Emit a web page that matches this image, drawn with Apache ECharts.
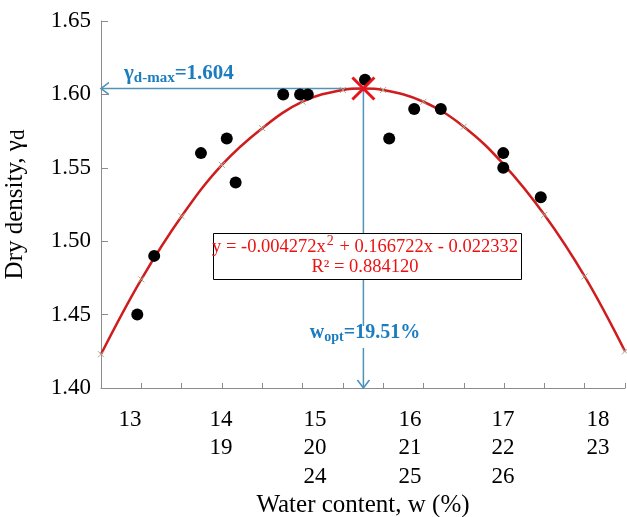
<!DOCTYPE html>
<html><head><meta charset="utf-8">
<script src="https://cdn.jsdelivr.net/npm/echarts@6/dist/echarts.min.js"></script>
<style>html,body{margin:0;padding:0;background:#fff}#c{width:627px;height:517px}</style>
</head><body><div id="c"></div>
<script>
// Measured points
const waterContent = [13.90, 14.32, 15.48, 16.12, 16.34, 17.52, 17.94, 18.13, 19.55, 20.15, 20.77, 21.43, 22.98, 22.98, 23.91];
const dryDensity   = [1.450, 1.490, 1.560, 1.570, 1.540, 1.600, 1.600, 1.600, 1.610, 1.570, 1.590, 1.590, 1.560, 1.550, 1.530];
// Fitted curve as plotted (points read at each marker)
const curveX = [13, 14, 15, 16, 17, 18, 19, 19.51, 20, 21, 22, 23, 24, 25, 26];
const curveY = [1.423, 1.474, 1.517, 1.552, 1.577, 1.595, 1.603, 1.604, 1.603, 1.595, 1.578, 1.552, 1.518, 1.476, 1.425];
// Optimum
const optW = 19.51;
const maxDensity = 1.604;
// Tick label rows (as printed under the axis)
const tickRow1 = ['13', '14', '15', '16', '17', '18'];
const tickRow2 = ['19', '20', '21', '22', '23'];
const tickRow3 = ['24', '25', '26'];

const SERIF = '"Liberation Serif", "Times New Roman", serif';
const BLUE_TXT = '#1b7cc0';
const BLUE_LN = '#4f93b8';
const RED = '#cf1d1d';

const colX = [130, 221, 315, 410, 503, 598];
const rowY = [420, 448, 477];
const rows = [tickRow1, tickRow2, tickRow3];
const tickGraphics = [];
rows.forEach((r, ri) => {
  r.forEach((t, i) => {
    tickGraphics.push({
      type: 'text', z: 100,
      style: { text: t, x: colX[i + ri], y: rowY[ri], fill: '#000', font: '23px ' + SERIF, align: 'center', verticalAlign: 'middle' }
    });
  });
});

const chart = echarts.init(document.getElementById('c'));
chart.setOption({
  animation: false,
  backgroundColor: '#fff',
  grid: { left: 101, right: 2, top: 21, bottom: 129, containLabel: false, outerBoundsMode: 'none' },
  xAxis: {
    type: 'value', min: 13, max: 26, interval: 1,
    axisLine: { show: true, lineStyle: { color: '#8c8c8c', width: 1 } },
    axisTick: { show: true, inside: true, length: 5, lineStyle: { color: '#8c8c8c' } },
    axisLabel: { show: false },
    splitLine: { show: false },
    name: 'Water content, w (%)', nameLocation: 'middle', nameGap: 105,
    nameTextStyle: { fontFamily: SERIF, fontSize: 25, color: '#000' }
  },
  yAxis: {
    type: 'value', min: 1.40, max: 1.65, interval: 0.05,
    axisLine: { show: true, lineStyle: { color: '#8c8c8c', width: 1 } },
    axisTick: { show: true, inside: true, length: 7, lineStyle: { color: '#8c8c8c' } },
    axisLabel: { fontFamily: SERIF, fontSize: 23, color: '#000', margin: 10, formatter: v => v.toFixed(2) },
    splitLine: { show: false },
    name: '{a|Dry density, γ}{s|d}', nameLocation: 'middle', nameGap: 72, nameRotate: 90,
    nameTextStyle: {
      rich: {
        a: { fontFamily: SERIF, fontSize: 25, color: '#000' },
        s: { fontFamily: SERIF, fontSize: 21, color: '#000', padding: [6, 0, 0, 0] }
      }
    }
  },
  series: [
    {
      type: 'line', data: [[optW, maxDensity], [13, maxDensity]], symbol: 'none',
      lineStyle: { color: BLUE_LN, width: 1.5 }, silent: true, z: 1
    },
    {
      type: 'line', data: [[optW, maxDensity], [optW, 1.40]], symbol: 'none',
      lineStyle: { color: BLUE_LN, width: 1.5 }, silent: true, z: 1
    },
    {
      type: 'scatter', z: 1,
      itemStyle: { color: 'rgba(0,0,0,0)', borderColor: BLUE_LN, borderWidth: 1.5, opacity: 1 },
      data: [
        { value: [13, maxDensity], symbol: 'path://M8,0L0,6L8,12', symbolSize: [8, 12], symbolOffset: [4, 0] },
        { value: [optW, 1.40], symbol: 'path://M0,0L6,8L12,0', symbolSize: [12, 8], symbolOffset: [0, -4] }
      ]
    },
    {
      type: 'line', smooth: 0.4, z: 3,
      data: curveX.map((x, i) => [x, curveY[i]]),
      lineStyle: { color: RED, width: 2.5 },
      symbol: 'path://M0,0L10,10M10,0L0,10', symbolSize: 6, showSymbol: true,
      itemStyle: { color: '#a8a890', borderColor: '#a8a890', borderWidth: 1 }
    },
    {
      type: 'scatter', z: 4,
      data: waterContent.map((x, i) => [x, dryDensity[i]]),
      symbol: 'circle', symbolSize: 12,
      itemStyle: { color: '#000', opacity: 1 }
    },
    {
      type: 'scatter', z: 5,
      data: [[optW, maxDensity]],
      symbol: 'path://M0,0L10,10M10,0L0,10', symbolSize: 22,
      itemStyle: { color: 'rgba(0,0,0,0)', borderColor: '#e8141b', borderWidth: 3, opacity: 1 }
    }
  ],
  graphic: tickGraphics.concat([
    {
      type: 'rect', z: 100,
      shape: { x: 213.5, y: 233.5, width: 308, height: 46 },
      style: { fill: '#fff', stroke: '#000', lineWidth: 1 }
    },
    {
      type: 'text', z: 101,
      style: {
        text: '{t|y = -0.004272x}{p|2}{t| + 0.166722x - 0.022332}',
        x: 365, y: 247, align: 'center', verticalAlign: 'middle',
        rich: {
          t: { fontFamily: SERIF, fontSize: 18.5, fill: '#ee1111' },
          p: { fontFamily: SERIF, fontSize: 14, fill: '#ee1111', padding: [0, 1, 12, 1] }
        }
      }
    },
    {
      type: 'text', z: 101,
      style: { text: 'R² = 0.884120', x: 365, y: 267, align: 'center', verticalAlign: 'middle', font: '18.5px ' + SERIF, fill: '#ee1111' }
    },
    {
      type: 'rect', z: 100,
      shape: { x: 308, y: 326, width: 114, height: 22 },
      style: { fill: '#fff' }
    },
    {
      type: 'text', z: 101,
      style: {
        text: '{w|w}{s|opt}{v|=19.51%}',
        x: 365, y: 333, align: 'center', verticalAlign: 'middle',
        rich: {
          w: { fontFamily: SERIF, fontSize: 20, fontWeight: 'bold', fill: BLUE_TXT },
          s: { fontFamily: SERIF, fontSize: 14, fontWeight: 'bold', fill: BLUE_TXT, padding: [8, 0, 0, 0] },
          v: { fontFamily: SERIF, fontSize: 20, fontWeight: 'bold', fill: BLUE_TXT }
        }
      }
    },
    {
      type: 'text', z: 101,
      style: {
        text: '{g|γ}{s|d-max}{v|=1.604}',
        x: 124, y: 74, align: 'left', verticalAlign: 'middle',
        rich: {
          g: { fontFamily: SERIF, fontSize: 21, fontWeight: 'bold', fill: BLUE_TXT },
          s: { fontFamily: SERIF, fontSize: 15, fontWeight: 'bold', fill: BLUE_TXT, padding: [8, 0, 0, 0] },
          v: { fontFamily: SERIF, fontSize: 21, fontWeight: 'bold', fill: BLUE_TXT }
        }
      }
    }
  ])
});
</script>
</body></html>
